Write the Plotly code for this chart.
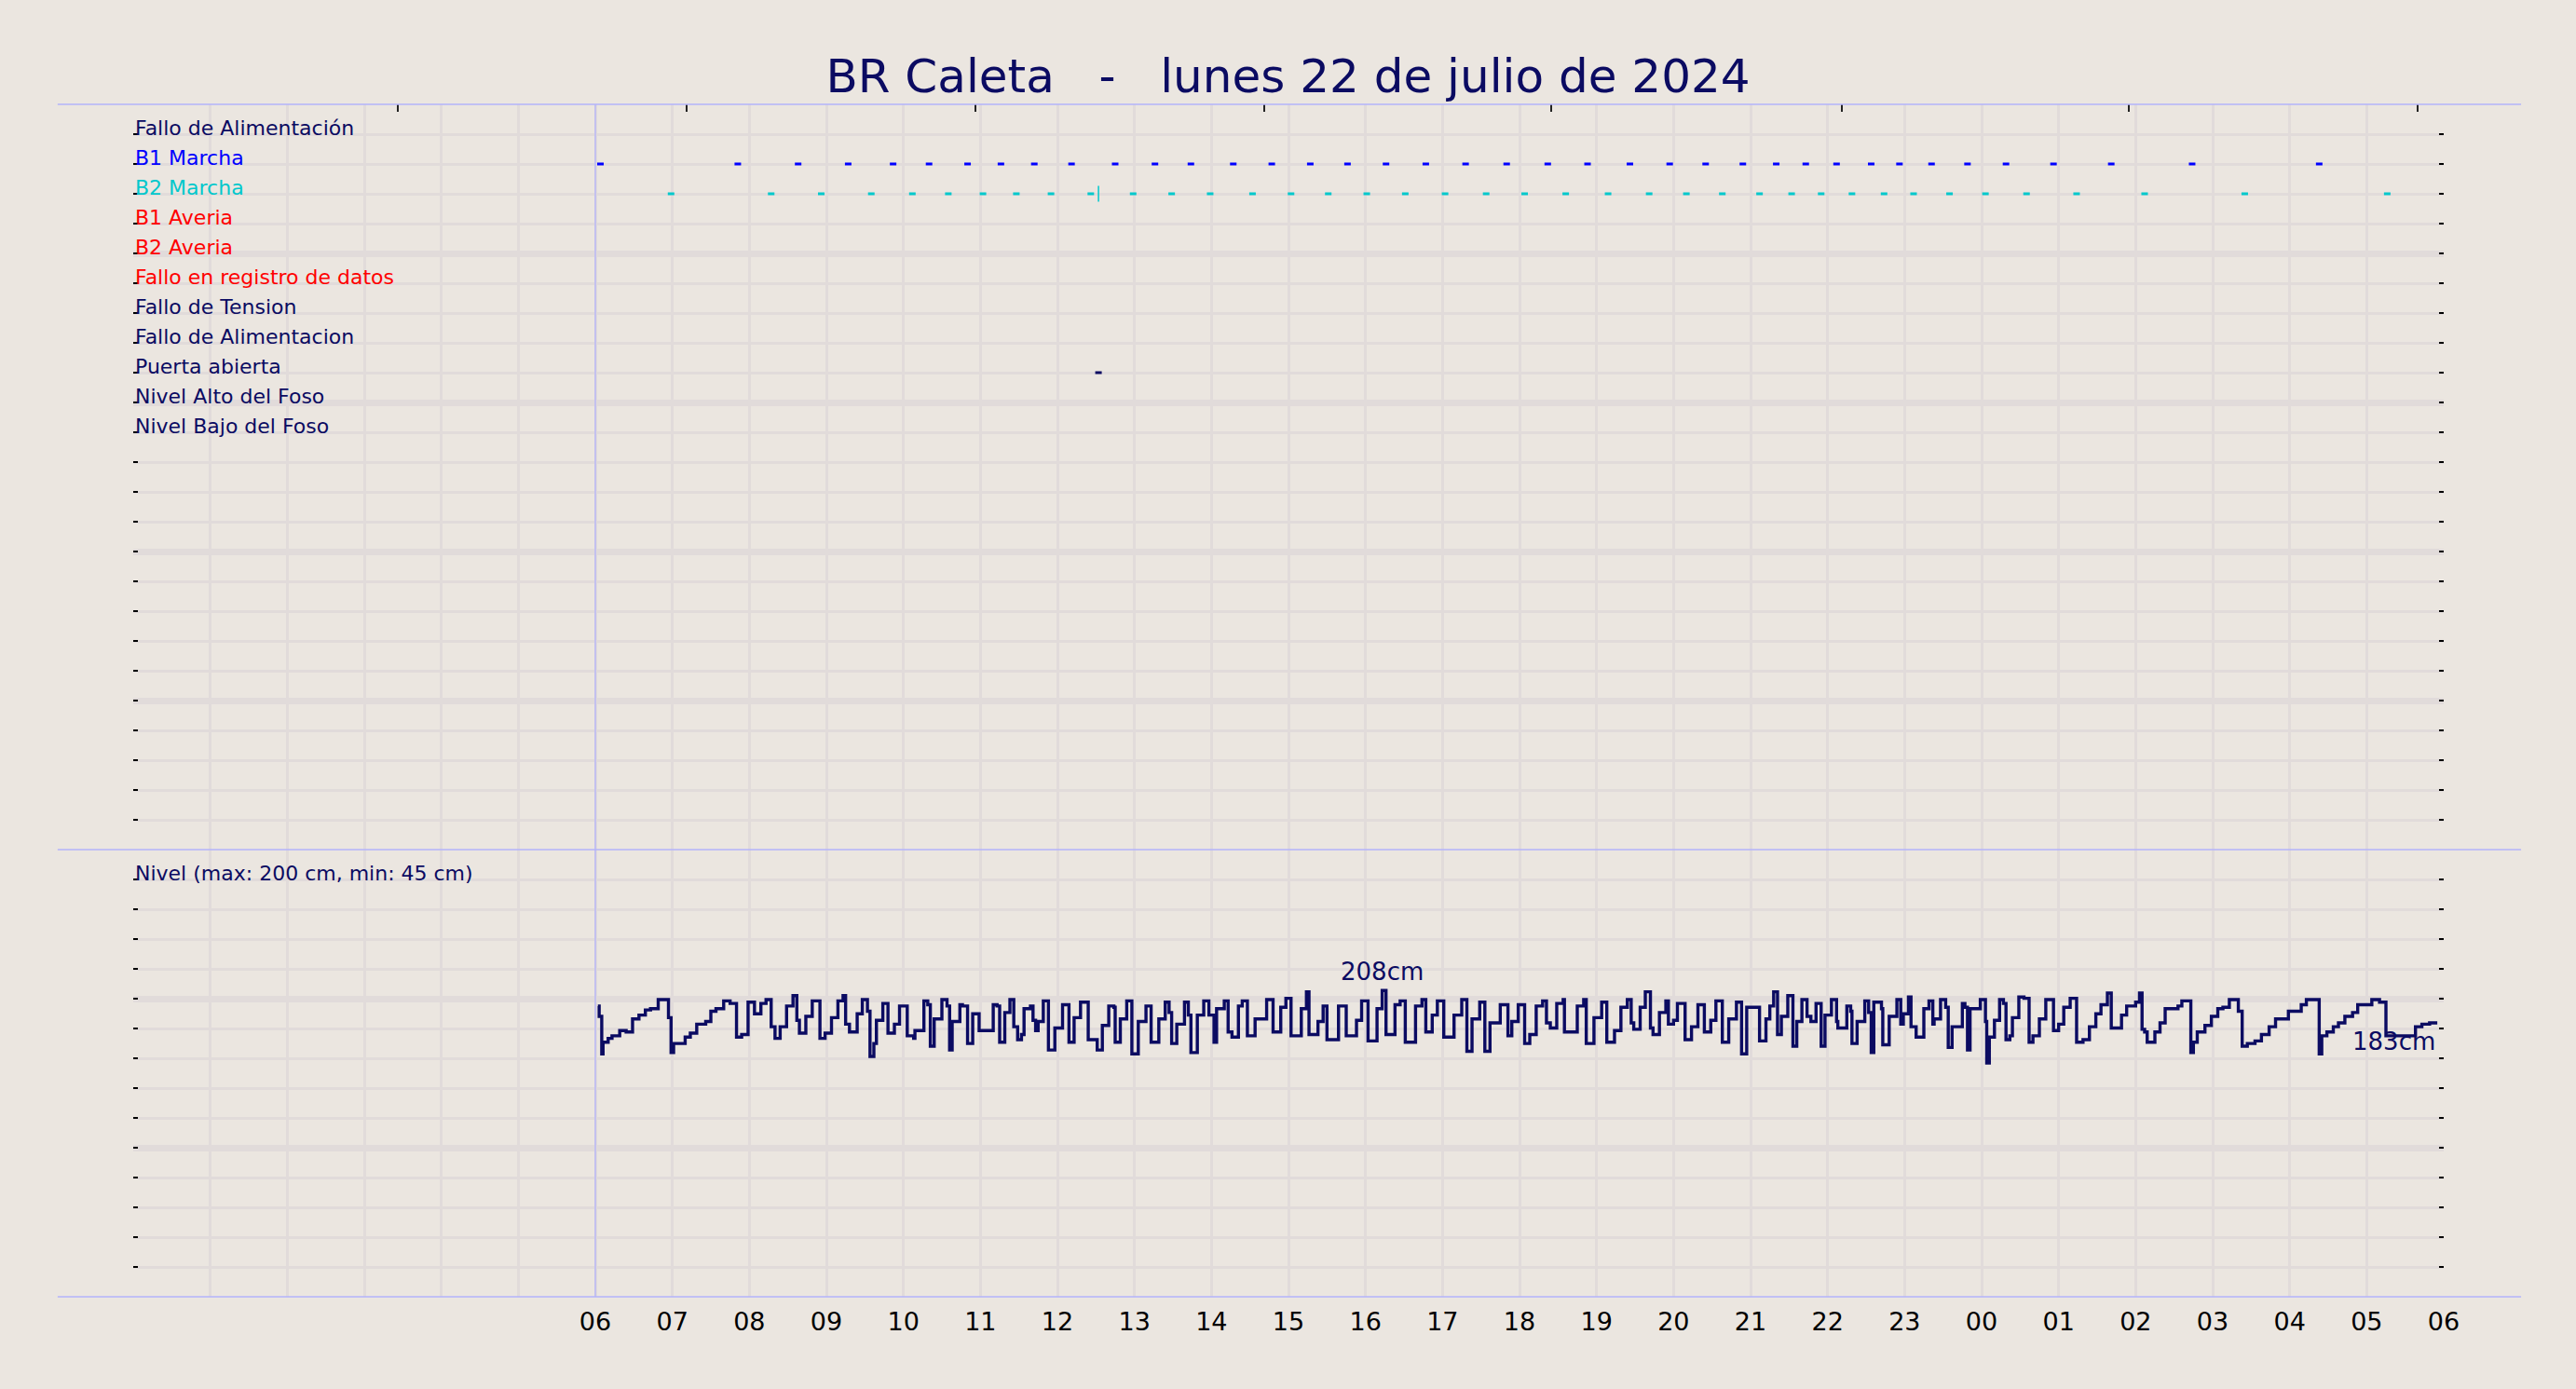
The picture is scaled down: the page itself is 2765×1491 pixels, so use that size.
import plotly.graph_objects as go
from datetime import datetime, timedelta

# ---------------- data ----------------
TITLE = "BR Caleta\u00a0\u00a0\u00a0-\u00a0\u00a0\u00a0lunes 22 de julio de 2024"
AXIS_START = datetime(2024, 7, 22, 0, 0)
DATA_START = datetime(2024, 7, 22, 6, 0)
AXIS_END = datetime(2024, 7, 23, 6, 0)

hour_labels = ["06", "07", "08", "09", "10", "11", "12", "13", "14", "15", "16", "17",
               "18", "19", "20", "21", "22", "23", "00", "01", "02", "03", "04", "05", "06"]

top_tick_times = ["2024-07-22 03:26", "2024-07-22 07:11", "2024-07-22 10:56", "2024-07-22 14:41",
                  "2024-07-22 18:25", "2024-07-22 22:11", "2024-07-23 01:55", "2024-07-23 05:40"]

row_labels = ["Fallo de Alimentación", "B1 Marcha", "B2 Marcha", "B1 Averia", "B2 Averia",
              "Fallo en registro de datos", "Fallo de Tension", "Fallo de Alimentacion",
              "Puerta abierta", "Nivel Alto del Foso", "Nivel Bajo del Foso"]

# event times, minutes after 06:00
b1_marcha_min = [4, 111, 158, 197, 232, 260, 290, 316, 342, 371, 405, 436, 464, 497, 527, 557,
                 586, 616, 647, 678, 710, 742, 773, 806, 837, 865, 894, 920, 943, 967, 994, 1016,
                 1041, 1069, 1099, 1136, 1181, 1244, 1343]
b2_marcha_min = [59, 137, 176, 215, 247, 275, 302, 328, 355, 386, 419, 449, 479, 512, 542, 571,
                 601, 631, 662, 694, 724, 756, 789, 821, 850, 878, 907, 932, 955, 979, 1004, 1027,
                 1055, 1083, 1115, 1154, 1207, 1285, 1396]
b2_marcha_long_min = [392]
puerta_abierta_min = [392]

level_label = "Nivel (max: 200 cm, min: 45 cm)"

# level (cm), step changes, minutes after 06:00
level_min = [2, 3, 5, 6, 10, 13, 19, 24, 29, 34, 39, 43, 49, 57, 59, 61, 70, 74, 79, 86, 90, 94,
             100, 105, 110, 114, 119, 124, 129, 133, 137, 140, 144, 149, 154, 157, 159, 164, 169,
             175, 179, 184, 189, 193, 195, 198, 204, 208, 212, 214, 217, 219, 224, 228, 233, 237,
             243, 248, 249, 256, 259, 261, 264, 270, 274, 276, 278, 284, 286, 290, 294, 299, 310,
             313, 315, 319, 323, 326, 329, 332, 334, 339, 341, 343, 345, 349, 353, 358, 364, 369,
             373, 378, 384, 391, 395, 400, 404, 405, 409, 414, 418, 423, 429, 433, 439, 444, 447,
             449, 453, 459, 462, 464, 469, 474, 478, 482,
             484, 490, 493, 496, 501, 504, 508, 514, 523, 528, 534, 538, 542, 550, 554, 556, 563,
             567, 570, 579, 585, 593, 597, 602, 609, 613, 616, 623, 627, 631, 639, 644, 647, 652,
             656, 661, 669, 675, 679, 683, 689, 693, 697, 705, 711,
             714, 719, 724, 728, 733, 738, 741, 744, 749, 754, 755, 765, 770, 772, 778, 784, 788,
             794, 799, 804, 807, 809, 814, 818, 822, 824, 829, 834, 836, 840, 843, 849, 854, 859,
             864, 869, 873, 878, 883, 889, 893, 897, 907, 912, 915, 918, 921, 924, 929, 933, 936,
             940, 944, 947, 951, 955,
             958, 963, 967, 968, 975, 978, 979, 983, 989, 992, 994, 996, 1002, 1003, 1008, 1014,
             1017, 1019, 1023, 1025, 1029, 1035, 1039, 1042, 1043, 1048, 1052, 1054, 1057, 1065,
             1067, 1069, 1071, 1079, 1083, 1084, 1086, 1090, 1094, 1097, 1099, 1102, 1104, 1109,
             1113, 1117, 1120, 1125, 1130, 1136, 1140, 1144, 1149, 1154, 1159, 1164, 1169, 1173,
             1178, 1181, 1189, 1193, 1200,
             1203, 1205, 1207, 1209, 1215, 1219, 1223, 1233, 1236, 1243, 1245, 1248, 1254, 1259,
             1264, 1268, 1273, 1280, 1283, 1287, 1293, 1298, 1304, 1309, 1319, 1329, 1333, 1343,
             1345, 1349, 1354, 1358, 1363, 1369, 1373, 1384, 1390, 1395, 1418, 1423, 1429, 1435]
level_cm = [196, 188, 159, 168, 171, 173, 177, 176, 186, 189, 193, 194, 201, 187, 160, 167, 172,
            175, 182, 184, 192, 194, 200, 198, 172, 174, 199, 190, 198, 201, 180, 171, 180, 196,
            204, 185, 175, 188, 200, 171, 175, 187, 200, 204, 182, 176, 190, 201, 192, 157, 167,
            185, 198, 175, 182, 196,
            173, 171, 177, 200, 197, 165, 186, 201, 196, 162, 184, 197, 196, 167, 190, 177, 197,
            196, 168, 191, 201, 180, 170, 174, 194, 196, 185, 177, 184, 200, 162, 179, 197, 168,
            187, 199, 170, 162, 181, 196, 195, 168, 186, 200, 159, 184, 196, 168, 186, 199, 191,
            167, 182, 199, 189, 160, 189, 200, 189, 168,
            194, 200, 176, 172, 196, 200, 173, 186, 201, 176, 195, 202, 173, 194, 207, 174, 184,
            196, 170, 196, 173, 185, 200, 169, 194, 208, 174, 197, 200, 168, 196, 201, 176, 189,
            200, 172, 189, 201, 161, 186, 199, 161, 183, 197, 173,
            184, 197, 167, 174, 196, 200, 183, 179, 198, 201, 176, 196, 201, 167, 187, 199, 168,
            177, 195, 201, 183, 178, 195, 207, 179, 174, 191, 200, 182, 185, 198, 170, 180, 197,
            176, 185, 200, 168, 186, 199, 159, 195, 169, 186, 196, 207, 174, 188, 204, 165, 184,
            201, 188, 184, 198, 165,
            189, 201, 184, 179, 196, 192, 167, 184, 200, 191, 160, 199, 194, 166, 188, 201, 182,
            190, 203, 180, 172, 194, 200, 182, 186, 201, 195, 164, 180, 198, 195, 162, 194, 201,
            184, 152, 172, 185, 201, 198, 170, 173, 187, 203, 202, 168, 173, 186, 201, 177, 182,
            195, 202, 168, 170, 180, 190, 197, 206, 179, 189, 196, 199,
            206, 178, 176, 168, 176, 183, 194, 196, 200, 160, 168, 176, 181, 188, 194, 195, 201,
            192, 165, 167, 169, 174, 180, 186, 192, 197, 201, 159, 173, 176, 180, 183, 188, 191,
            197, 201, 199, 173, 180, 182, 183, 183]

# ---------------- style ----------------
BG = "#ebe6e0"
GRID = "#e1dbda"
NAVY = "#0b0b62"
LAV = "#b3b3fb"
FONT = "DejaVu Sans"
row_colors = [NAVY, "#0000ff", "#00c8cc", "#ff0000", "#ff0000", "#ff0000",
              NAVY, NAVY, NAVY, NAVY, NAVY]
N_TOP_ROWS = 25
LEVEL_ROW_CM = 23.05
LEVEL_BOTTOM = -28.8
LEVEL_TOP = LEVEL_BOTTOM + 15 * LEVEL_ROW_CM
TOP_DOMAIN = [0.375, 1.0]
BOT_DOMAIN = [0.0, 0.375]


def to_dt(mins):
    return [DATA_START + timedelta(minutes=m) for m in mins]


row_of = {lab: i + 1 for i, lab in enumerate(row_labels)}

fig = go.Figure()


def add_events(mins, label, color, symbol="line-ew", size=5, width=3):
    fig.add_trace(go.Scatter(
        x=to_dt(mins), y=[row_of[label]] * len(mins), mode="markers",
        marker=dict(symbol=symbol, size=size, color=color, line=dict(width=width, color=color)),
        xaxis="x", yaxis="y", hoverinfo="skip", showlegend=False))


add_events(b1_marcha_min, "B1 Marcha", "#0000ff")
add_events(b2_marcha_min, "B2 Marcha", "#00c8cc")
add_events(b2_marcha_long_min, "B2 Marcha", "#00c8cc", symbol="line-ns", size=12, width=1.5)
add_events(puerta_abierta_min, "Puerta abierta", NAVY)

# level step line
level_x = to_dt(level_min)
fig.add_trace(go.Scatter(x=level_x, y=level_cm, mode="lines", line=dict(shape="hv", width=3.4, color=NAVY),
                         xaxis="x2", yaxis="y2", hoverinfo="skip", showlegend=False))

# helper trace for top tick axis
fig.add_trace(go.Scatter(x=[AXIS_START], y=[0], mode="markers", marker=dict(opacity=0),
                         xaxis="x3", yaxis="y", hoverinfo="skip", showlegend=False))

tickvals = [DATA_START + timedelta(hours=i) for i in range(len(hour_labels))]
xcommon = dict(type="date", range=[AXIS_START, AXIS_END], showgrid=True, gridcolor=GRID, gridwidth=2.5,
               zeroline=False, showline=False, tickmode="array", tickvals=tickvals,
               minor=dict(dtick=3600000, tick0=AXIS_START, showgrid=True, gridcolor=GRID, gridwidth=2.5))

ycommon = dict(showticklabels=False, zeroline=False, showline=False, ticks="inside", ticklen=5,
               tickwidth=1.5, tickcolor="black", mirror="ticks", showgrid=True, gridcolor=GRID,
               gridwidth=6.5, tickmode="linear")

annotations = []
for lab, col in zip(row_labels, row_colors):
    annotations.append(dict(text=lab, x=0, xref="paper", xanchor="left", y=row_of[lab], yref="y",
                            yanchor="bottom", yshift=-8, showarrow=False,
                            font=dict(family=FONT, size=22, color=col)))
annotations.append(dict(text=level_label, x=0, xref="paper", xanchor="left",
                        y=LEVEL_TOP - LEVEL_ROW_CM, yref="y2", yanchor="bottom", yshift=-8,
                        showarrow=False, font=dict(family=FONT, size=22, color=NAVY)))
imax = max(range(len(level_cm)), key=lambda i: level_cm[i])
annotations.append(dict(text=f"{level_cm[imax]}cm", x=level_x[imax], xref="x2", y=level_cm[imax],
                        yref="y2", yanchor="middle", yshift=20, showarrow=False,
                        font=dict(family=FONT, size=26, color=NAVY)))
annotations.append(dict(text=f"{level_cm[-1]}cm", x=level_x[-1], xref="x2", xanchor="right",
                        y=level_cm[-1], yref="y2", yanchor="middle", yshift=-20, showarrow=False,
                        font=dict(family=FONT, size=26, color=NAVY)))

shapes = []
for yy in (0.0, TOP_DOMAIN[0], 1.0):
    shapes.append(dict(type="line", xref="paper", yref="paper", x0=-0.0327, x1=1.0335, y0=yy, y1=yy,
                       line=dict(color=LAV, width=1.5)))
shapes.append(dict(type="line", xref="x", yref="paper", x0=DATA_START, x1=DATA_START, y0=0, y1=1,
                   line=dict(color=LAV, width=1.3)))

fig.update_layout(
    width=2765, height=1491,
    margin=dict(l=143, r=142, t=112, b=99),
    paper_bgcolor=BG, plot_bgcolor=BG,
    font=dict(family=FONT, color="black"),
    title=dict(text=TITLE, x=0.5, xanchor="center", y=1 - 81 / 1491, yanchor="middle",
               font=dict(family=FONT, size=50, color=NAVY)),
    xaxis=dict(**xcommon, anchor="y", showticklabels=False, ticks=""),
    xaxis2=dict(**xcommon, anchor="y2", matches="x", ticktext=hour_labels, ticks="",
                ticklabelstandoff=8, tickfont=dict(family=FONT, size=27, color="black")),
    xaxis3=dict(type="date", range=[AXIS_START, AXIS_END], overlaying="x", side="top", anchor="y",
                tickmode="array", tickvals=top_tick_times, ticks="inside", ticklen=8, tickwidth=1.5,
                tickcolor="#222222", showticklabels=False, showgrid=False, zeroline=False, showline=False),
    yaxis=dict(**ycommon, domain=TOP_DOMAIN, anchor="x", range=[N_TOP_ROWS, 0], tick0=0, dtick=5,
               minor=dict(tick0=0, dtick=1, showgrid=True, gridcolor=GRID, gridwidth=2.5, ticks="inside",
                          ticklen=5, tickwidth=1.5, tickcolor="black")),
    yaxis2=dict(**ycommon, domain=BOT_DOMAIN, anchor="x2", range=[LEVEL_BOTTOM, LEVEL_TOP],
                tick0=LEVEL_BOTTOM, dtick=5 * LEVEL_ROW_CM,
                minor=dict(tick0=LEVEL_BOTTOM, dtick=LEVEL_ROW_CM, showgrid=True, gridcolor=GRID,
                           gridwidth=2.5, ticks="inside", ticklen=5, tickwidth=1.5, tickcolor="black")),
    annotations=annotations, shapes=shapes,
)

fig.write_html("out.html", config={"displayModeBar": False},
               post_script="document.body.style.margin='0';document.body.style.overflow='hidden';")
